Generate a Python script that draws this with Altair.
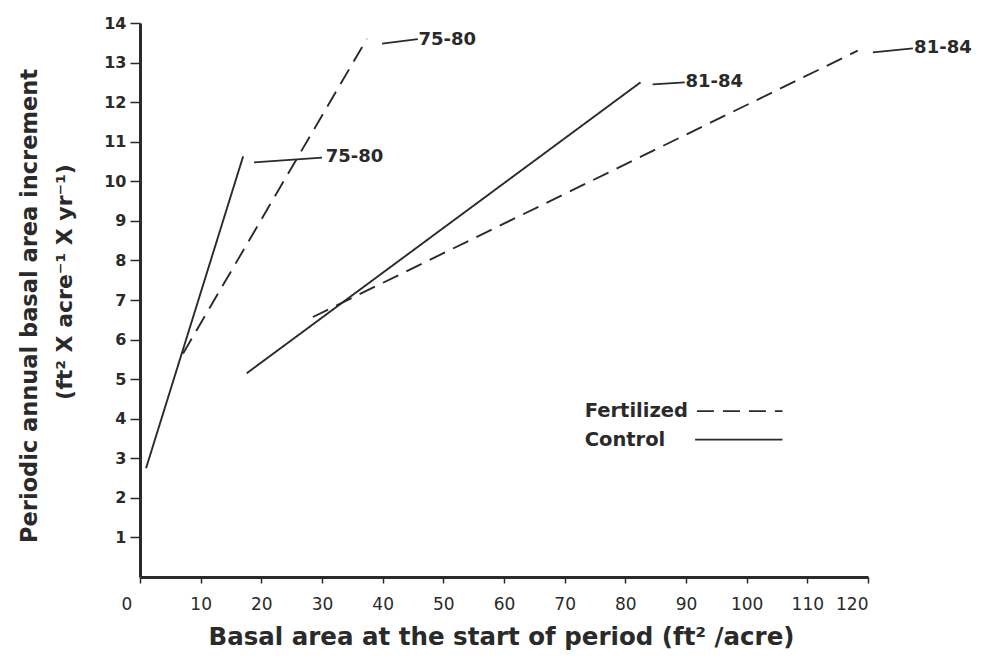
import altair as alt
import pandas as pd

# ---- data ----
treatments = ["Control", "Control", "Fertilized", "Fertilized"]
periods = ["75-80", "81-84", "75-80", "81-84"]
start_x = [1.0, 17.6, 7.1, 28.5]
start_y = [2.75, 5.15, 5.65, 6.57]
end_x = [17.0, 82.5, 37.4, 118.3]
end_y = [10.63, 12.5, 13.6, 13.3]

# leader lines and period labels (data coordinates)
leader_x1 = [18.8, 84.5, 39.9, 120.8]
leader_y1 = [10.48, 12.45, 13.48, 13.26]
leader_x2 = [30.0, 89.8, 45.8, 127.4]
leader_y2 = [10.6, 12.5, 13.59, 13.36]
label_x = [30.6, 89.9, 45.9, 127.6]
label_y = [10.62, 12.5, 13.58, 13.38]

# hand-drawn legend (data coordinates)
legend_names = ["Fertilized", "Control"]
legend_text_x = [73.3, 73.3]
legend_y = [4.19, 3.47]
legend_line_x1 = [91.8, 91.5]
legend_line_x2 = [105.9, 105.9]

x_ticks = list(range(0, 121, 10))
y_ticks = list(range(1, 15))

FONT = "DejaVu Sans"
INK = "#2a2a2a"

rows = []
for t, p, x0, y0, x1, y1 in zip(treatments, periods, start_x, start_y, end_x, end_y):
    rows.append(dict(treatment=t, series=t + " " + p, x=x0, y=y0, o=0))
    rows.append(dict(treatment=t, series=t + " " + p, x=x1, y=y1, o=1))
lines_df = pd.DataFrame(rows)

ann_df = pd.DataFrame(dict(period=periods, x1=leader_x1, y1=leader_y1,
                           x2=leader_x2, y2=leader_y2, lx=label_x, ly=label_y))
leg_df = pd.DataFrame(dict(treatment=legend_names, tx=legend_text_x, y=legend_y,
                           lx1=legend_line_x1, lx2=legend_line_x2))

dash_scale = alt.Scale(domain=["Fertilized", "Control"], range=[[17, 9], [1, 0]])
leg_dash_scale = alt.Scale(domain=["Fertilized", "Control"], range=[[11, 8], [1, 0]])

xscale = alt.Scale(domain=[0, 120], nice=False)
yscale = alt.Scale(domain=[0, 14], nice=False)

x_axis = alt.Axis(
    values=x_ticks, grid=False, domainWidth=3, domainColor=INK, tickColor=INK,
    tickSize=6, tickWidth=1.5, labelFont=FONT, labelFontSize=17, labelColor=INK,
    labelPadding=13,
    labelOffset={"condition": {"test": "datum.value === 0", "value": -19}, "value": 0},
    title="Basal area at the start of period (ft² /acre)",
    titleFont=FONT, titleFontSize=24.5, titleFontWeight="bold", titleColor=INK,
    titleX=361, titleY=60, titleAlign="center", titleBaseline="middle", titleAnchor="start",
)
y_axis = alt.Axis(
    values=y_ticks, grid=False, domainWidth=3, domainColor=INK, tickColor=INK,
    tickSize=10, tickWidth=1.5, labelFont=FONT, labelFontSize=16, labelFontWeight="bold",
    labelColor=INK, labelPadding=4, title=None,
)

base = alt.Chart(lines_df)

lines = base.mark_line(color=INK, strokeWidth=1.9).encode(
    x=alt.X("x:Q", scale=xscale, axis=x_axis),
    y=alt.Y("y:Q", scale=yscale, axis=y_axis),
    detail="series:N",
    order="o:Q",
    strokeDash=alt.StrokeDash("treatment:N", scale=dash_scale, legend=None),
)

ann = alt.Chart(ann_df)
leaders = ann.mark_rule(color=INK, strokeWidth=1.8).encode(
    x=alt.X("x1:Q", scale=xscale), y=alt.Y("y1:Q", scale=yscale),
    x2="x2:Q", y2="y2:Q",
)
labels = ann.mark_text(align="left", baseline="middle", font=FONT, fontSize=18,
                       fontWeight="bold", color=INK).encode(
    x=alt.X("lx:Q", scale=xscale), y=alt.Y("ly:Q", scale=yscale), text="period:N",
)

leg = alt.Chart(leg_df)
leg_text = leg.mark_text(align="left", baseline="middle", font=FONT, fontSize=19.5,
                         fontWeight="bold", color=INK).encode(
    x=alt.X("tx:Q", scale=xscale), y=alt.Y("y:Q", scale=yscale), text="treatment:N",
)
leg_lines = leg.mark_rule(color=INK, strokeWidth=1.8).encode(
    x=alt.X("lx1:Q", scale=xscale), x2="lx2:Q", y=alt.Y("y:Q", scale=yscale),
    strokeDash=alt.StrokeDash("treatment:N", scale=leg_dash_scale, legend=None),
)

ytitle_df = pd.DataFrame(dict(t=["Periodic annual basal area increment",
                                 "(ft² X acre⁻¹ X yr⁻¹)"]))
ytitle1 = alt.Chart(ytitle_df).transform_filter("datum.t[0] == 'P'").mark_text(
    angle=270, align="center", baseline="middle", font=FONT, fontSize=22.5,
    fontWeight="bold", color=INK).encode(text="t:N", x=alt.value(-110), y=alt.value(283))
ytitle2 = alt.Chart(ytitle_df).transform_filter("datum.t[0] == '('").mark_text(
    angle=270, align="center", baseline="middle", font=FONT, fontSize=22,
    fontWeight="bold", color=INK).encode(text="t:N", x=alt.value(-75), y=alt.value(259))

chart = alt.layer(lines, leaders, labels, leg_lines, leg_text, ytitle1, ytitle2).properties(
    width=728, height=554,
    autosize=alt.AutoSizeParams(type="none"),
    padding={"left": 132, "top": 15, "right": 108, "bottom": 80},
    background="white",
).configure_view(stroke=None)

chart.save("out.html", embed_options={"renderer": "svg", "actions": False})
